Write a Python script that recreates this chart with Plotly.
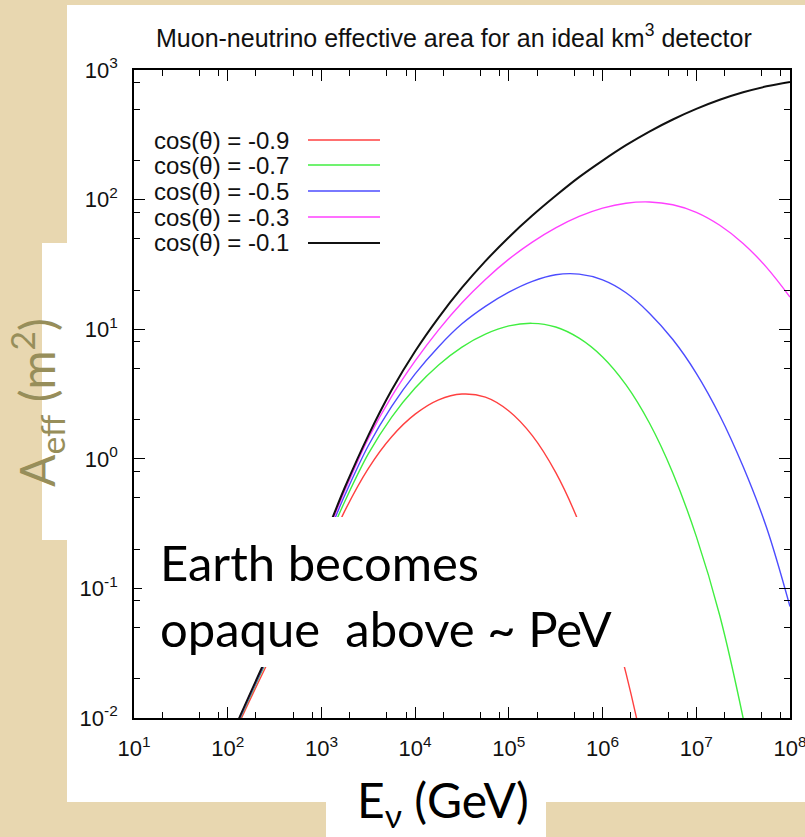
import plotly.graph_objects as go

# ---------------- data ----------------
energy_gev = [1e2, 3.16e2, 1e3, 1.78e3, 3.16e3, 5.62e3, 1e4, 1.78e4, 3.16e4, 5.62e4,
              1e5, 1.78e5, 3.16e5, 5.62e5, 1e6, 1.78e6, 3.16e6, 5.62e6, 1e7, 1.78e7,
              3.16e7, 5.62e7, 1e8]

# effective area in m^2 for each zenith angle
aeff_cos_m09 = [0.00589, 0.0339, 0.158, 0.398, 0.841, 1.48, 2.21, 2.85, 3.16, 2.99,
                2.34, 1.51, 0.785, 0.320, 0.0989, 0.0221, 0.00335, 0.0003]
aeff_cos_m07 = [0.00611, 0.0368, 0.185, 0.471, 1.09, 2.10, 3.52, 5.30, 7.28, 9.16,
                10.6, 11.1, 10.4, 8.53, 6.11, 3.72, 1.89, 0.778, 0.252, 0.0618,
                0.0100, 0.00112, 0.0001]
aeff_cos_m05 = [0.00617, 0.0380, 0.200, 0.525, 1.26, 2.54, 4.52, 7.33, 11.0, 15.0,
                19.3, 23.4, 26.3, 26.6, 24.0, 19.1, 13.3, 8.32, 4.57, 2.16,
                0.871, 0.295, 0.0724]
aeff_cos_m03 = [0.00627, 0.0391, 0.210, 0.569, 1.43, 3.03, 5.69, 9.89, 16.0, 24.2,
                34.7, 47.0, 60.5, 74.1, 85.9, 93.8, 95.9, 91.2, 79.8, 63.4,
                45.9, 30.0, 17.7]
aeff_cos_m01 = [0.00631, 0.0398, 0.219, 0.603, 1.51, 3.39, 6.76, 12.3, 20.9, 33.5,
                51.3, 75.3, 107, 149, 200, 263, 335, 415, 501, 589,
                673, 748, 809]

series_names = ["cos(θ) = -0.9", "cos(θ) = -0.7", "cos(θ) = -0.5",
                "cos(θ) = -0.3", "cos(θ) = -0.1"]
series_values = [aeff_cos_m09, aeff_cos_m07, aeff_cos_m05, aeff_cos_m03, aeff_cos_m01]
series_colors = ["#ff4040", "#40ee40", "#4c4cff", "#ff40ff", "#111111"]
series_widths = [1.4, 1.4, 1.4, 1.4, 2.0]

x_tickvals = [1e1, 1e2, 1e3, 1e4, 1e5, 1e6, 1e7, 1e8]
x_ticktext = ["10<sup>1</sup>", "10<sup>2</sup>", "10<sup>3</sup>", "10<sup>4</sup>",
              "10<sup>5</sup>", "10<sup>6</sup>", "10<sup>7</sup>", "10<sup>8</sup>"]
y_tickvals = [1e-2, 1e-1, 1e0, 1e1, 1e2, 1e3]
y_ticktext = ["10<sup>-2</sup>", "10<sup>-1</sup>", "10<sup>0</sup>",
              "10<sup>1</sup>", "10<sup>2</sup>", "10<sup>3</sup>"]
# minor ticks as drawn in the reference (2, 5 and 8 within each decade)
x_minorvals = [20, 50, 80, 200, 500, 800, 2e3, 5e3, 8e3, 2e4, 5e4, 8e4,
               2e5, 5e5, 8e5, 2e6, 5e6, 8e6, 2e7, 5e7, 8e7]
y_minorvals = [0.02, 0.05, 0.08, 0.2, 0.5, 0.8, 2, 5, 8, 20, 50, 80, 200, 500, 800]

# ---------------- layout helpers (pixel -> paper) ----------------
W, H = 805, 837
L, R, T, B = 134, 790, 70, 718


def px(x):
    return (x - L) / (R - L)


def py(y):
    return (B - y) / (B - T)


PARCH = "#e8d7b0"
GNU_FONT = "Liberation Sans, Arial, sans-serif"
SLIDE_FONT = "Lato, Open Sans, sans-serif"

fig = go.Figure()
for name, vals, col, lw in zip(series_names, series_values, series_colors, series_widths):
    fig.add_trace(go.Scatter(
        x=energy_gev[:len(vals)], y=vals, mode="lines", name=name,
        line=dict(color=col, width=lw, shape="spline", smoothing=1.0),
        showlegend=False, hoverinfo="skip"))

shapes = [
    # white picture of the chart on the slide
    dict(type="rect", xref="paper", yref="paper", x0=px(67), x1=px(805), y0=py(802), y1=py(5),
         fillcolor="white", line=dict(width=0), layer="below"),
    # white box behind the y title
    dict(type="rect", xref="paper", yref="paper", x0=px(42), x1=px(68), y0=py(540), y1=py(243),
         fillcolor="white", line=dict(width=0), layer="below"),
    # white box behind the x title
    dict(type="rect", xref="paper", yref="paper", x0=px(326), x1=px(546), y0=py(837), y1=py(801),
         fillcolor="white", line=dict(width=0), layer="below"),
    # white text box "Earth becomes opaque..."
    dict(type="rect", xref="paper", yref="paper", x0=px(142), x1=px(650), y0=py(667), y1=py(517),
         fillcolor="white", line=dict(width=0), layer="above"),
]

annotations = [
    dict(text="Muon-neutrino effective area for an ideal km<sup>3</sup> detector",
         x=px(454), y=py(36), xref="paper", yref="paper", showarrow=False,
         xanchor="center", yanchor="middle", font=dict(family=GNU_FONT, size=25, color="#111")),
    dict(text="A<sub>eff</sub> (m<sup>2</sup>)", textangle=-90,
         x=px(37), y=py(403), xref="paper", yref="paper", showarrow=False,
         xanchor="center", yanchor="middle", font=dict(family=SLIDE_FONT, size=48, color="#978e5a")),
    dict(text="E<sub>ν</sub>\u00a0(GeV)",
         x=px(443), y=py(803), xref="paper", yref="paper", showarrow=False,
         xanchor="center", yanchor="middle", font=dict(family=SLIDE_FONT, size=48, color="black")),
    dict(text="Earth becomes",
         x=px(158), y=py(562), xref="paper", yref="paper", showarrow=False,
         xanchor="left", yanchor="middle", font=dict(family=SLIDE_FONT, size=49, color="black")),
    dict(text="opaque\u00a0\u00a0above ~ PeV",
         x=px(158), y=py(628), xref="paper", yref="paper", showarrow=False,
         xanchor="left", yanchor="middle", font=dict(family=SLIDE_FONT, size=49, color="black")),
]

# gnuplot-style key: text on the left, line sample on the right
key_y = [140, 165, 191, 217, 243]
for name, col, lw, yk in zip(series_names, series_colors, series_widths, key_y):
    annotations.append(dict(text=name, x=px(152), y=py(yk), xref="paper", yref="paper",
                            showarrow=False, xanchor="left", yanchor="middle",
                            font=dict(family=GNU_FONT, size=24, color="#111")))
    shapes.append(dict(type="line", xref="paper", yref="paper", x0=px(308), x1=px(380),
                       y0=py(yk), y1=py(yk), line=dict(color=col, width=lw), layer="above"))

axis_common = dict(
    type="log", showgrid=False, zeroline=False, showline=True, linecolor="black", linewidth=1.8,
    mirror="allticks", ticks="inside", ticklen=11, tickwidth=1.3, tickcolor="black",
    tickfont=dict(family=GNU_FONT, size=22, color="#111"), automargin=False,
    ticklabeloverflow="allow", ticklabelstandoff=10,
)

fig.update_layout(
    width=W, height=H,
    margin=dict(l=L, r=W - R, t=T, b=H - B, pad=0, autoexpand=False),
    paper_bgcolor=PARCH, plot_bgcolor="white",
    xaxis=dict(range=[1, 8], tickvals=x_tickvals, ticktext=x_ticktext,
               minor=dict(tickmode="array", tickvals=x_minorvals, ticks="inside", ticklen=6,
                          tickwidth=1, tickcolor="black", showgrid=False),
               **axis_common),
    yaxis=dict(range=[-2, 3], tickvals=y_tickvals, ticktext=y_ticktext,
               minor=dict(tickmode="array", tickvals=y_minorvals, ticks="inside", ticklen=6,
                          tickwidth=1, tickcolor="black", showgrid=False),
               **axis_common),
    shapes=shapes, annotations=annotations,
)

fig.write_html("out.html")
